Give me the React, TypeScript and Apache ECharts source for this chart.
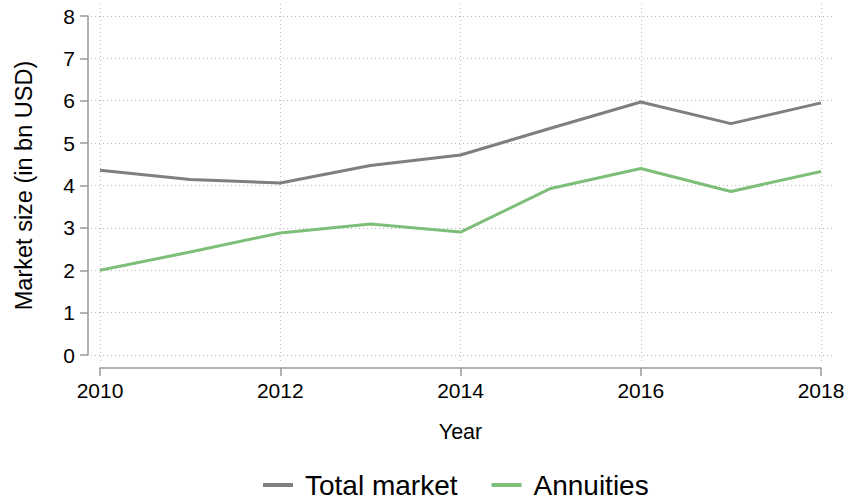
import React, { useEffect, useRef } from "react";
import * as echarts from "echarts";

const years = [2010, 2011, 2012, 2013, 2014, 2015, 2016, 2017, 2018];
const totalMarket = [4.36, 4.14, 4.06, 4.47, 4.72, 5.35, 5.97, 5.46, 5.95];
const annuities = [2.0, 2.43, 2.88, 3.09, 2.9, 3.93, 4.4, 3.86, 4.33];
const seriesNames = ["Total market", "Annuities"];
const xTitle = "Year";
const yTitle = "Market size (in bn USD)";

const FONT = "'Liberation Sans', Arial, Helvetica, sans-serif";
const GRAY = "#7f7f7f";
const GREEN = "#7dbe78";
const AXIS = "#9a9a9a";
const GRID = "#bdbdbd";

export default function App() {
  const ref = useRef<HTMLDivElement>(null);
  useEffect(() => {
    document.body.style.margin = "0";
    if (!ref.current) return;
    const chart = echarts.init(ref.current, undefined, { renderer: "svg" });
    const splitLine = {
      show: true,
      showMinLine: false,
      showMaxLine: false,
      lineStyle: { color: GRID, width: 1, type: [1, 3] as any },
    };
    chart.setOption({
      animation: false,
      backgroundColor: "#ffffff",
      textStyle: { fontFamily: FONT, color: "#000" },
      grid: [
        { left: 91, right: 18, top: 4, bottom: 140 },
        { left: 100, right: 30, top: 16, bottom: 149 },
      ],
      legend: {
        left: 258,
        top: 466,
        icon: "rect",
        itemWidth: 30,
        itemHeight: 4,
        itemGap: 34,
        textStyle: { fontSize: 28, fontFamily: FONT, color: "#000", padding: [0, 0, 0, 7] },
        data: seriesNames,
      },
      xAxis: [
        {
          gridIndex: 0,
          type: "value",
          min: 2009.9,
          max: 2018.133,
          splitNumber: 4,
          axisLine: { show: false },
          axisTick: { show: false },
          axisLabel: { show: false },
          splitLine,
        },
        {
          gridIndex: 1,
          type: "value",
          min: 2010,
          max: 2018,
          interval: 2,
          offset: 13,
          axisLine: { show: true, onZero: false, lineStyle: { color: AXIS, width: 1.5 } },
          axisTick: { show: true, length: 8, lineStyle: { color: AXIS, width: 1.5 } },
          axisLabel: {
            fontSize: 21,
            color: "#000",
            margin: 12,
            fontFamily: FONT,
            formatter: (v: number) => String(v),
          },
          splitLine: { show: false },
          name: xTitle,
          nameLocation: "middle",
          nameGap: 53,
          nameTextStyle: { fontSize: 21.5, color: "#000", fontFamily: FONT },
        },
      ],
      yAxis: [
        {
          gridIndex: 0,
          type: "value",
          min: -0.212,
          max: 8.283,
          splitNumber: 8,
          axisLine: { show: false },
          axisTick: { show: false },
          axisLabel: { show: false },
          splitLine,
        },
        {
          gridIndex: 1,
          type: "value",
          min: 0,
          max: 8,
          interval: 1,
          offset: 12,
          axisLine: { show: true, onZero: false, lineStyle: { color: AXIS, width: 1.5 } },
          axisTick: { show: true, length: 8, lineStyle: { color: AXIS, width: 1.5 } },
          axisLabel: { fontSize: 21, color: "#000", margin: 13, fontFamily: FONT },
          splitLine: { show: false },
          name: yTitle,
          nameLocation: "middle",
          nameGap: 52,
          nameTextStyle: { fontSize: 23.5, color: "#000", fontFamily: FONT },
        },
      ],
      series: [
        {
          name: seriesNames[0],
          type: "line",
          xAxisIndex: 1,
          yAxisIndex: 1,
          data: years.map((y, i) => [y, totalMarket[i]]),
          showSymbol: false,
          symbol: "none",
          lineStyle: { color: GRAY, width: 3 },
          itemStyle: { color: GRAY },
        },
        {
          name: seriesNames[1],
          type: "line",
          xAxisIndex: 1,
          yAxisIndex: 1,
          data: years.map((y, i) => [y, annuities[i]]),
          showSymbol: false,
          symbol: "none",
          lineStyle: { color: GREEN, width: 3 },
          itemStyle: { color: GREEN },
        },
      ],
    });
    return () => chart.dispose();
  }, []);
  return <div ref={ref} style={{ width: 851, height: 504 }} />;
}
